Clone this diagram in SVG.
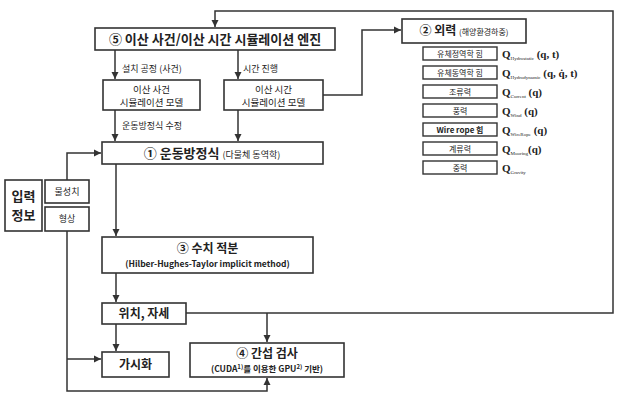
<svg xmlns="http://www.w3.org/2000/svg" width="620" height="402" viewBox="0 0 620 402">
<defs>
<marker id="ah" markerWidth="8" markerHeight="8" refX="7" refY="4" orient="auto" markerUnits="userSpaceOnUse">
<path d="M0,0.5 L7,4 L0,7.5 Z" fill="#333"/>
</marker>
<style>
text{font-family:"Noto Sans CJK KR","Noto Sans",sans-serif;fill:#222}
.box{fill:#fff;stroke:#333;stroke-width:1.6}
.sbox{fill:#fff;stroke:#333;stroke-width:1.4}
.ln{fill:none;stroke:#333;stroke-width:1.5}
.arr{fill:none;stroke:#333;stroke-width:1.5;marker-end:url(#ah)}
.t13{font-size:13px;font-weight:bold}
.t12{font-size:12px;font-weight:bold}
.t10{font-size:9.5px}
.t9{font-size:9px}
.t8{font-size:8px}
.q{font-family:"Liberation Serif",serif;font-weight:bold;font-size:11px}
.qs{font-family:"Liberation Serif",serif;font-size:5px}
</style>
</defs>
<rect width="620" height="402" fill="#fff"/>

<g id="connectors">
<path class="arr" d="M267,313 H613 V11 H215 V27"/>
<path class="arr" d="M115,50 V79"/>
<path class="arr" d="M238,50 V79"/>
<path class="arr" d="M323,95 H362 V30 H401"/>
<path class="arr" d="M115,110 V141"/>
<path class="arr" d="M238,110 V141"/>
<path class="arr" d="M67,180 V153 H101"/>
<path class="arr" d="M116,164 V236"/>
<path class="arr" d="M116,273 V302"/>
<path class="arr" d="M116,324 V351"/>
<path class="ln" d="M186,313 H267"/>
<path class="arr" d="M267,313 V342"/>
<path class="arr" d="M67,231 V391 H267 V378"/>
<path class="arr" d="M67,359 H101"/>
</g>

<g id="labels">
<text class="t9" x="122" y="72">설치 공정 (사건)</text>
<text class="t9" x="243" y="72">시간 진행</text>
<text class="t9" x="122" y="129">운동방정식 수정</text>
</g>

<g id="node5">
<rect class="box" x="95" y="28" width="240" height="22"/>
<text class="t13" x="215" y="44" text-anchor="middle">⑤ 이산 사건/이산 시간 시뮬레이션 엔진</text>
</g>

<g id="des-model">
<rect class="box" x="103" y="80" width="97" height="30"/>
<text class="t10" x="151.5" y="92.5" text-anchor="middle">이산 사건</text>
<text class="t10" x="151.5" y="106" text-anchor="middle">시뮬레이션 모델</text>
</g>

<g id="dts-model">
<rect class="box" x="224" y="80" width="99" height="30"/>
<text class="t10" x="273.5" y="92.5" text-anchor="middle">이산 시간</text>
<text class="t10" x="273.5" y="106" text-anchor="middle">시뮬레이션 모델</text>
</g>

<g id="node1">
<rect class="box" x="102" y="142" width="221" height="22"/>
<text x="212" y="158" text-anchor="middle"><tspan class="t13">① 운동방정식 </tspan><tspan class="t9">(다물체 동역학)</tspan></text>
</g>

<g id="input">
<rect class="box" x="5" y="180" width="37" height="51"/>
<text class="t13" x="23.5" y="201" text-anchor="middle">입력</text>
<text class="t13" x="23.5" y="220" text-anchor="middle">정보</text>
</g>
<g id="props">
<rect class="box" x="45" y="180" width="44" height="23"/>
<text class="t9" x="67" y="195" text-anchor="middle">물성치</text>
</g>
<g id="shape">
<rect class="box" x="45" y="207" width="44" height="24"/>
<text class="t9" x="67" y="222" text-anchor="middle">형상</text>
</g>

<g id="node3">
<rect class="box" x="102" y="237" width="211" height="36"/>
<text class="t12" x="207.5" y="253" text-anchor="middle">③ 수치 적분</text>
<text x="207.5" y="267" text-anchor="middle" style="font-size:8.5px;font-weight:bold">(Hilber-Hughes-Taylor implicit method)</text>
</g>

<g id="pose">
<rect class="box" x="102" y="303" width="84" height="21"/>
<text class="t12" x="144" y="318" text-anchor="middle">위치, 자세</text>
</g>

<g id="vis">
<rect class="box" x="102" y="352" width="67" height="25"/>
<text class="t12" x="135.5" y="369" text-anchor="middle">가시화</text>
</g>

<g id="node4">
<rect class="box" x="190" y="343" width="154" height="34"/>
<text class="t12" x="267" y="358" text-anchor="middle">④ 간섭 검사</text>
<text x="267" y="372" text-anchor="middle" style="font-size:8.5px;font-weight:bold">(CUDA<tspan font-size="6" dy="-3">1)</tspan><tspan dy="3">를 이용한 GPU</tspan><tspan font-size="6" dy="-3">2)</tspan><tspan dy="3"> 기반)</tspan></text>
</g>

<g id="node2">
<rect class="box" x="402" y="19" width="124" height="24"/>
<text x="464" y="35" text-anchor="middle"><tspan class="t12">② 외력 </tspan><tspan class="t8">(해양환경하중)</tspan></text>
</g>

<g id="forces">
<g id="f1"><rect class="sbox" x="423" y="47" width="74" height="13"/><text class="t8" x="460" y="57" text-anchor="middle">유체정역학 힘</text>
<text x="502" y="58"><tspan class="q">Q</tspan><tspan class="qs" dy="2">Hydrostatic</tspan><tspan class="q" dy="-2"> (q, t)</tspan></text></g>
<g id="f2"><rect class="sbox" x="423" y="66" width="74" height="13"/><text class="t8" x="460" y="76" text-anchor="middle">유체동역학 힘</text>
<text x="502" y="77"><tspan class="q">Q</tspan><tspan class="qs" dy="2">Hydrodynamic</tspan><tspan class="q" dy="-2"> (q, q̇, t)</tspan></text></g>
<g id="f3"><rect class="sbox" x="423" y="85" width="74" height="13"/><text class="t8" x="460" y="95" text-anchor="middle">조류력</text>
<text x="502" y="96"><tspan class="q">Q</tspan><tspan class="qs" dy="2">Current</tspan><tspan class="q" dy="-2"> (q)</tspan></text></g>
<g id="f4"><rect class="sbox" x="423" y="104" width="74" height="13"/><text class="t8" x="460" y="114" text-anchor="middle">풍력</text>
<text x="502" y="115"><tspan class="q">Q</tspan><tspan class="qs" dy="2">Wind</tspan><tspan class="q" dy="-2"> (q)</tspan></text></g>
<g id="f5"><rect class="sbox" x="423" y="123" width="74" height="13"/><text x="460" y="133" text-anchor="middle" style="font-size:8px;font-weight:bold">Wire rope 힘</text>
<text x="502" y="134"><tspan class="q">Q</tspan><tspan class="qs" dy="2">WireRope</tspan><tspan class="q" dy="-2"> (q)</tspan></text></g>
<g id="f6"><rect class="sbox" x="423" y="142" width="74" height="13"/><text class="t8" x="460" y="152" text-anchor="middle">계류력</text>
<text x="502" y="153"><tspan class="q">Q</tspan><tspan class="qs" dy="2">Mooring</tspan><tspan class="q" dy="-2">(q)</tspan></text></g>
<g id="f7"><rect class="sbox" x="423" y="161" width="74" height="13"/><text class="t8" x="460" y="171" text-anchor="middle">중력</text>
<text x="502" y="172"><tspan class="q">Q</tspan><tspan class="qs" dy="2">Gravity</tspan></text></g>
</g>
</svg>
